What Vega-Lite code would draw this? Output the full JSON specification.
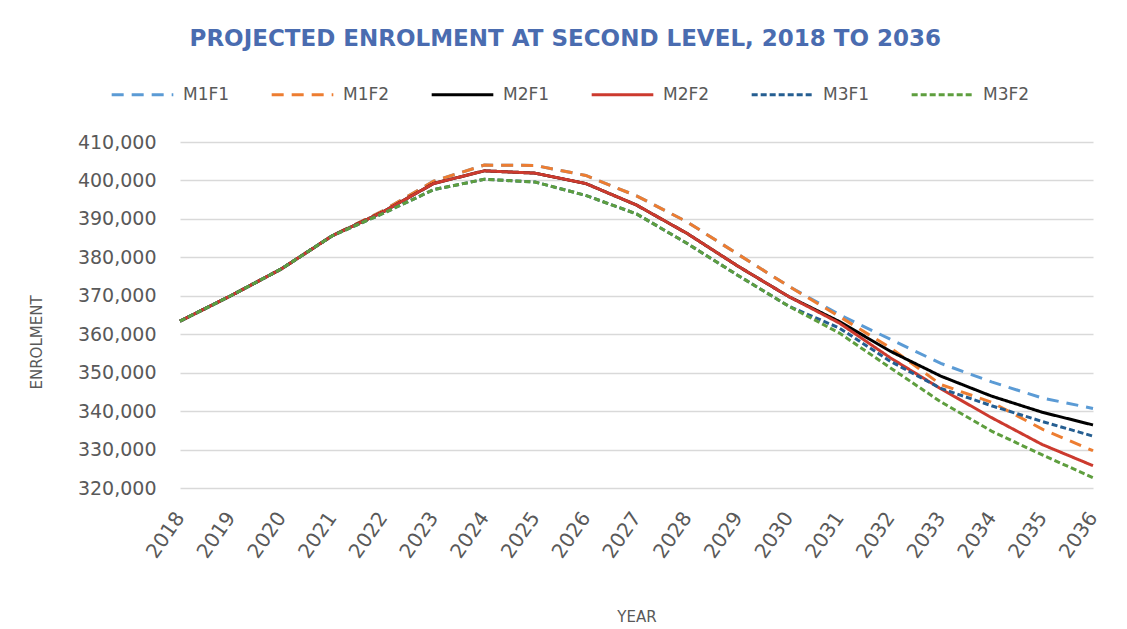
{
  "$schema": "https://vega.github.io/schema/vega-lite/v6.json",
  "width": 913,
  "height": 346,
  "autosize": "none",
  "padding": {"left": 180, "top": 142, "right": 34, "bottom": 141},
  "background": "white",
  "title": {
    "text": "PROJECTED ENROLMENT AT SECOND LEVEL, 2018 TO 2036",
    "font": "DejaVu Sans",
    "fontSize": 23,
    "fontWeight": "bold",
    "color": "#4A6CB0",
    "anchor": "middle",
    "frame": "bounds",
    "offset": 11
  },
  "data": {
    "values": [
      {"series": "M1F1", "year": 2018, "value": 363400},
      {"series": "M1F1", "year": 2019, "value": 370000},
      {"series": "M1F1", "year": 2020, "value": 377000},
      {"series": "M1F1", "year": 2021, "value": 385600},
      {"series": "M1F1", "year": 2022, "value": 392100},
      {"series": "M1F1", "year": 2023, "value": 399800},
      {"series": "M1F1", "year": 2024, "value": 404000},
      {"series": "M1F1", "year": 2025, "value": 403900},
      {"series": "M1F1", "year": 2026, "value": 401300},
      {"series": "M1F1", "year": 2027, "value": 396000},
      {"series": "M1F1", "year": 2028, "value": 389200},
      {"series": "M1F1", "year": 2029, "value": 380800},
      {"series": "M1F1", "year": 2030, "value": 372500},
      {"series": "M1F1", "year": 2031, "value": 365100},
      {"series": "M1F1", "year": 2032, "value": 358700},
      {"series": "M1F1", "year": 2033, "value": 352400},
      {"series": "M1F1", "year": 2034, "value": 347600},
      {"series": "M1F1", "year": 2035, "value": 343400},
      {"series": "M1F1", "year": 2036, "value": 340700},

      {"series": "M1F2", "year": 2018, "value": 363400},
      {"series": "M1F2", "year": 2019, "value": 370000},
      {"series": "M1F2", "year": 2020, "value": 377000},
      {"series": "M1F2", "year": 2021, "value": 385600},
      {"series": "M1F2", "year": 2022, "value": 392100},
      {"series": "M1F2", "year": 2023, "value": 399800},
      {"series": "M1F2", "year": 2024, "value": 404000},
      {"series": "M1F2", "year": 2025, "value": 403900},
      {"series": "M1F2", "year": 2026, "value": 401300},
      {"series": "M1F2", "year": 2027, "value": 396000},
      {"series": "M1F2", "year": 2028, "value": 389200},
      {"series": "M1F2", "year": 2029, "value": 380800},
      {"series": "M1F2", "year": 2030, "value": 372500},
      {"series": "M1F2", "year": 2031, "value": 364600},
      {"series": "M1F2", "year": 2032, "value": 356500},
      {"series": "M1F2", "year": 2033, "value": 346900},
      {"series": "M1F2", "year": 2034, "value": 342300},
      {"series": "M1F2", "year": 2035, "value": 335300},
      {"series": "M1F2", "year": 2036, "value": 329700},

      {"series": "M2F1", "year": 2018, "value": 363400},
      {"series": "M2F1", "year": 2019, "value": 370000},
      {"series": "M2F1", "year": 2020, "value": 377000},
      {"series": "M2F1", "year": 2021, "value": 385600},
      {"series": "M2F1", "year": 2022, "value": 391800},
      {"series": "M2F1", "year": 2023, "value": 399200},
      {"series": "M2F1", "year": 2024, "value": 402500},
      {"series": "M2F1", "year": 2025, "value": 401900},
      {"series": "M2F1", "year": 2026, "value": 399200},
      {"series": "M2F1", "year": 2027, "value": 393600},
      {"series": "M2F1", "year": 2028, "value": 386200},
      {"series": "M2F1", "year": 2029, "value": 377700},
      {"series": "M2F1", "year": 2030, "value": 369800},
      {"series": "M2F1", "year": 2031, "value": 363300},
      {"series": "M2F1", "year": 2032, "value": 355600},
      {"series": "M2F1", "year": 2033, "value": 349100},
      {"series": "M2F1", "year": 2034, "value": 343900},
      {"series": "M2F1", "year": 2035, "value": 339700},
      {"series": "M2F1", "year": 2036, "value": 336400},

      {"series": "M2F2", "year": 2018, "value": 363400},
      {"series": "M2F2", "year": 2019, "value": 370000},
      {"series": "M2F2", "year": 2020, "value": 377000},
      {"series": "M2F2", "year": 2021, "value": 385600},
      {"series": "M2F2", "year": 2022, "value": 391800},
      {"series": "M2F2", "year": 2023, "value": 399200},
      {"series": "M2F2", "year": 2024, "value": 402500},
      {"series": "M2F2", "year": 2025, "value": 401900},
      {"series": "M2F2", "year": 2026, "value": 399200},
      {"series": "M2F2", "year": 2027, "value": 393600},
      {"series": "M2F2", "year": 2028, "value": 386200},
      {"series": "M2F2", "year": 2029, "value": 377700},
      {"series": "M2F2", "year": 2030, "value": 369800},
      {"series": "M2F2", "year": 2031, "value": 362900},
      {"series": "M2F2", "year": 2032, "value": 353900},
      {"series": "M2F2", "year": 2033, "value": 345800},
      {"series": "M2F2", "year": 2034, "value": 338300},
      {"series": "M2F2", "year": 2035, "value": 331300},
      {"series": "M2F2", "year": 2036, "value": 325800},

      {"series": "M3F1", "year": 2018, "value": 363400},
      {"series": "M3F1", "year": 2019, "value": 370000},
      {"series": "M3F1", "year": 2020, "value": 377000},
      {"series": "M3F1", "year": 2021, "value": 385600},
      {"series": "M3F1", "year": 2022, "value": 391400},
      {"series": "M3F1", "year": 2023, "value": 397600},
      {"series": "M3F1", "year": 2024, "value": 400300},
      {"series": "M3F1", "year": 2025, "value": 399600},
      {"series": "M3F1", "year": 2026, "value": 396100},
      {"series": "M3F1", "year": 2027, "value": 391300},
      {"series": "M3F1", "year": 2028, "value": 383600},
      {"series": "M3F1", "year": 2029, "value": 375300},
      {"series": "M3F1", "year": 2030, "value": 367300},
      {"series": "M3F1", "year": 2031, "value": 361600},
      {"series": "M3F1", "year": 2032, "value": 353000},
      {"series": "M3F1", "year": 2033, "value": 345900},
      {"series": "M3F1", "year": 2034, "value": 341400},
      {"series": "M3F1", "year": 2035, "value": 337300},
      {"series": "M3F1", "year": 2036, "value": 333500},

      {"series": "M3F2", "year": 2018, "value": 363400},
      {"series": "M3F2", "year": 2019, "value": 370000},
      {"series": "M3F2", "year": 2020, "value": 377000},
      {"series": "M3F2", "year": 2021, "value": 385600},
      {"series": "M3F2", "year": 2022, "value": 391400},
      {"series": "M3F2", "year": 2023, "value": 397600},
      {"series": "M3F2", "year": 2024, "value": 400300},
      {"series": "M3F2", "year": 2025, "value": 399600},
      {"series": "M3F2", "year": 2026, "value": 396100},
      {"series": "M3F2", "year": 2027, "value": 391300},
      {"series": "M3F2", "year": 2028, "value": 383600},
      {"series": "M3F2", "year": 2029, "value": 375300},
      {"series": "M3F2", "year": 2030, "value": 367300},
      {"series": "M3F2", "year": 2031, "value": 360300},
      {"series": "M3F2", "year": 2032, "value": 351300},
      {"series": "M3F2", "year": 2033, "value": 342400},
      {"series": "M3F2", "year": 2034, "value": 334800},
      {"series": "M3F2", "year": 2035, "value": 328600},
      {"series": "M3F2", "year": 2036, "value": 322700}
    ]
  },
  "mark": {"type": "line", "strokeWidth": 3, "strokeCap": "butt"},
  "encoding": {
    "x": {
      "field": "year",
      "type": "ordinal",
      "scale": {"type": "point", "padding": 0},
      "axis": {
        "title": "YEAR",
        "labelAngle": -55,
        "labelFontSize": 20,
        "labelPadding": 26,
        "titlePadding": 48
      }
    },
    "y": {
      "field": "value",
      "type": "quantitative",
      "scale": {"domain": [320000, 410000], "nice": false, "zero": false},
      "axis": {
        "title": "ENROLMENT",
        "tickCount": 9,
        "format": ",d",
        "labelFontSize": 19,
        "labelPadding": 24,
        "titlePadding": 33,
        "titleY": 200
      }
    },
    "color": {
      "field": "series",
      "type": "nominal",
      "scale": {
        "domain": ["M1F1", "M1F2", "M2F1", "M2F2", "M3F1", "M3F2"],
        "range": ["#5B9BD5", "#ED7D31", "#000000", "#CC3A2E", "#255E91", "#5E9E3E"]
      },
      "legend": {
        "title": null,
        "orient": "none",
        "direction": "horizontal",
        "legendX": -70,
        "legendY": -80
      }
    },
    "strokeDash": {
      "field": "series",
      "type": "nominal",
      "scale": {
        "domain": ["M1F1", "M1F2", "M2F1", "M2F2", "M3F1", "M3F2"],
        "range": [[12, 8], [12, 8], [1, 0], [1, 0], [6, 3], [6, 3]]
      },
      "legend": {
        "title": null,
        "orient": "none",
        "direction": "horizontal",
        "legendX": -70,
        "legendY": -80
      }
    }
  },
  "config": {
    "view": {"stroke": null},
    "axis": {
      "labelFont": "DejaVu Sans",
      "titleFont": "DejaVu Sans",
      "labelColor": "#595959",
      "titleColor": "#595959",
      "titleFontWeight": "normal",
      "titleFontSize": 15,
      "gridColor": "#D9D9D9",
      "gridWidth": 1.5,
      "domain": false,
      "ticks": false
    },
    "legend": {
      "labelFont": "DejaVu Sans",
      "labelFontSize": 17,
      "labelColor": "#595959",
      "symbolType": "stroke",
      "symbolSize": 3800,
      "symbolStrokeWidth": 3,
      "labelOffset": 8,
      "columnPadding": 35
    }
  }
}
